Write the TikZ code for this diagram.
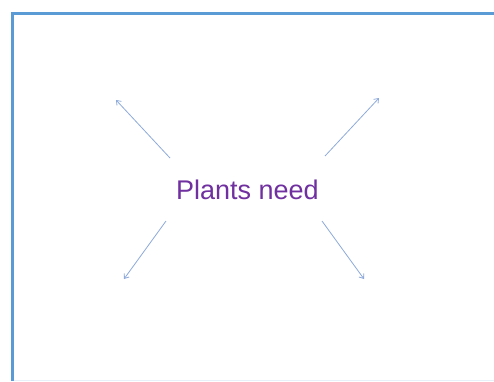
\documentclass[tikz,border=0pt]{standalone}
\usepackage{fontspec}
\setmainfont{Liberation Sans}
\usetikzlibrary{arrows.meta}
\definecolor{frameblue}{HTML}{5B9BD5}
\definecolor{arrowblue}{HTML}{8EAADB}
\definecolor{textpurple}{HTML}{7030A0}
\tikzset{
  spoke/.style={draw=arrowblue, line width=0.8pt, -{Straight Barb[length=4pt,width=6pt]}},
}
\begin{document}
\begin{tikzpicture}[x=1pt,y=-1pt]
\useasboundingbox (0,0) rectangle (494,381);
\fill[white] (0,0) rectangle (494,381);
\draw[frameblue, line width=3pt] (12,381) -- (12,13.5) -- (494,13.5);
\draw[frameblue!15, line width=1pt] (13.5,380.5) -- (494,380.5);
\node[text=textpurple, font=\fontsize{27}{30}\selectfont, inner sep=0pt] (t) at (247.5,190) {Plants need};
\coordinate (a1s) at (170,158); \coordinate (a1e) at (116,100);
\coordinate (a2s) at (325,156); \coordinate (a2e) at (379,98);
\coordinate (a3s) at (166,221); \coordinate (a3e) at (124,279);
\coordinate (a4s) at (322,221); \coordinate (a4e) at (364,279);
\draw[spoke] (a1s) -- (a1e);
\draw[spoke] (a2s) -- (a2e);
\draw[spoke] (a3s) -- (a3e);
\draw[spoke] (a4s) -- (a4e);
\end{tikzpicture}
\end{document}
